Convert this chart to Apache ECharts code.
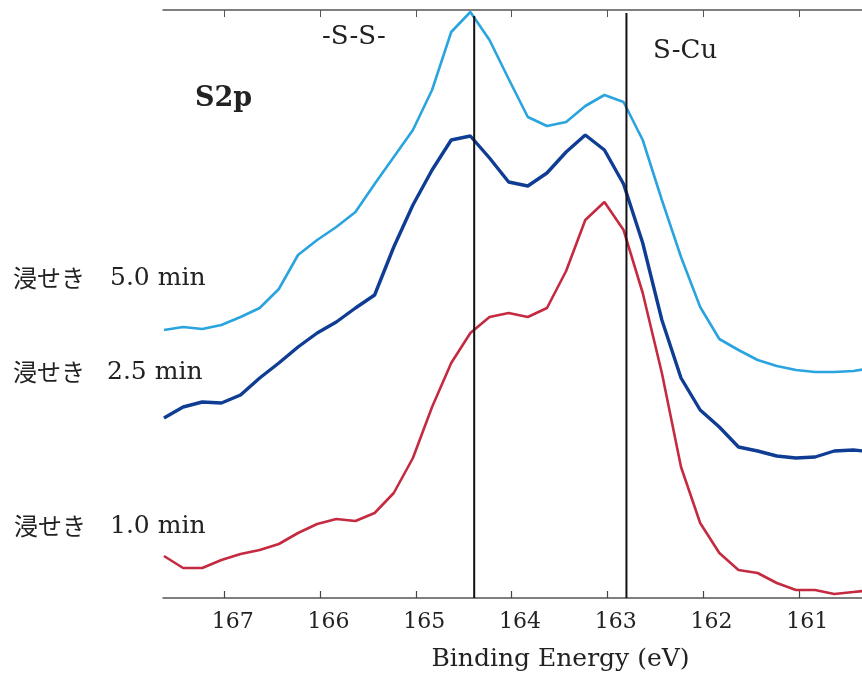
<!DOCTYPE html>
<html>
<head>
<meta charset="utf-8">
<script src="https://cdn.jsdelivr.net/npm/echarts@6/dist/echarts.min.js"></script>
<style>
html,body{margin:0;padding:0;background:#fff;}
#chart{width:862px;height:688px;}
</style>
</head>
<body>
<div id="chart"></div>
<script>
// Binding energy (eV) of each sampled point (last one runs just past the right frame)
const energy = [167.63,167.43,167.23,167.03,166.83,166.63,166.43,166.23,166.03,165.83,165.63,165.43,165.23,165.03,164.83,164.63,164.43,164.23,164.03,163.83,163.63,163.43,163.23,163.03,162.83,162.63,162.43,162.23,162.03,161.83,161.63,161.43,161.23,161.03,160.83,160.63,160.43,160.23];
// Intensity (arbitrary units, offset stacked spectra)
const dip50 = [268,271,269,273,281,290,309,343,358,371,386,414,441,468,508,566,586,558,519,481,472,476,492,503,496,458,398,341,291,259,248,238,232,228,226,226,227,230];
const dip25 = [180,191,196,195,203,220,235,251,265,276,290,303,351,393,428,458,462,440,416,412,425,446,463,448,414,355,278,220,188,171,151,147,142,140,141,147,148,146];
const dip10 = [42,30,30,38,44,48,54,65,74,79,77,85,105,140,191,235,265,281,285,281,290,327,378,396,368,305,225,131,75,45,28,25,15,8,8,4,6,8];
// Reference peak positions
const peakSS = 164.39;
const peakSCu = 162.80;
// Axis tick labels
const tickValues = [167,166,165,164,163,162,161];
const seriesNames = ['浸せき 5.0 min','浸せき 2.5 min','浸せき 1.0 min'];

const chart = echarts.init(document.getElementById('chart'), null, {renderer:'canvas'});
const serif = 'DejaVu Serif';
const toPairs = arr => energy.map((e,i)=>[e, arr[i]]);

const option = {
  animation:false,
  backgroundColor:'#ffffff',
  grid:{left:163,right:0,top:10,bottom:90},
  xAxis:[{
    type:'value', position:'bottom', min:160.34, max:167.64, inverse:true,
    axisLine:{show:true,onZero:false,lineStyle:{color:'#555',width:1.5}},
    axisTick:{show:true,inside:true,length:7,customValues:tickValues,lineStyle:{color:'#444',width:1.2}},
    axisLabel:{show:true,customValues:tickValues,fontFamily:serif,fontSize:22,color:'#222',margin:13,padding:[0,0,0,17]},
    splitLine:{show:false},
    name:'Binding Energy (eV)', nameLocation:'middle', nameGap:49,
    nameTextStyle:{fontFamily:serif,fontSize:25,color:'#222',padding:[0,0,0,96]}
  },{
    type:'value', position:'top', min:160.34, max:167.64, inverse:true,
    axisLine:{show:true,onZero:false,lineStyle:{color:'#555',width:1.5}},
    axisTick:{show:true,inside:true,length:7,customValues:tickValues,lineStyle:{color:'#555',width:1}},
    axisLabel:{show:false},
    splitLine:{show:false}
  }],
  yAxis:{type:'value',min:0,max:588,show:false},
  series:[
    {name:seriesNames[0],type:'line',data:toPairs(dip50),showSymbol:false,clip:true,lineStyle:{color:'#2aa4de',width:2.6},z:3},
    {name:seriesNames[1],type:'line',data:toPairs(dip25),showSymbol:false,clip:true,lineStyle:{color:'#0f3d93',width:3.4},z:3},
    {name:seriesNames[2],type:'line',data:toPairs(dip10),showSymbol:false,clip:true,lineStyle:{color:'#c42a40',width:2.6},z:3},
    {name:'-S-S-',type:'line',data:[[peakSS,0],[peakSS,582]],showSymbol:false,lineStyle:{color:'#111',width:2},z:4},
    {name:'S-Cu',type:'line',data:[[peakSCu,0],[peakSCu,585]],showSymbol:false,lineStyle:{color:'#111',width:2},z:4}
  ],
  graphic:[
    {type:'text',left:195,top:85,style:{text:'S2p',font:'bold 27px "DejaVu Serif"',fill:'#222'}},
    {type:'text',left:322,top:24,style:{text:'-S-S-',font:'26px "DejaVu Serif"',fill:'#222'}},
    {type:'text',left:653,top:38,style:{text:'S-Cu',font:'26px "DejaVu Serif"',fill:'#222'}},
    {type:'text',left:13,top:266,style:{text:'浸せき',font:'24px "Noto Sans CJK JP"',fill:'#222'}},
    {type:'text',left:110,top:266,style:{text:'5.0 min',font:'25px "DejaVu Serif"',fill:'#222'}},
    {type:'text',left:13,top:360,style:{text:'浸せき',font:'24px "Noto Sans CJK JP"',fill:'#222'}},
    {type:'text',left:107,top:360,style:{text:'2.5 min',font:'25px "DejaVu Serif"',fill:'#222'}},
    {type:'text',left:14,top:514,style:{text:'浸せき',font:'24px "Noto Sans CJK JP"',fill:'#222'}},
    {type:'text',left:110,top:514,style:{text:'1.0 min',font:'25px "DejaVu Serif"',fill:'#222'}}
  ]
};
chart.setOption(option);
</script>
</body>
</html>
